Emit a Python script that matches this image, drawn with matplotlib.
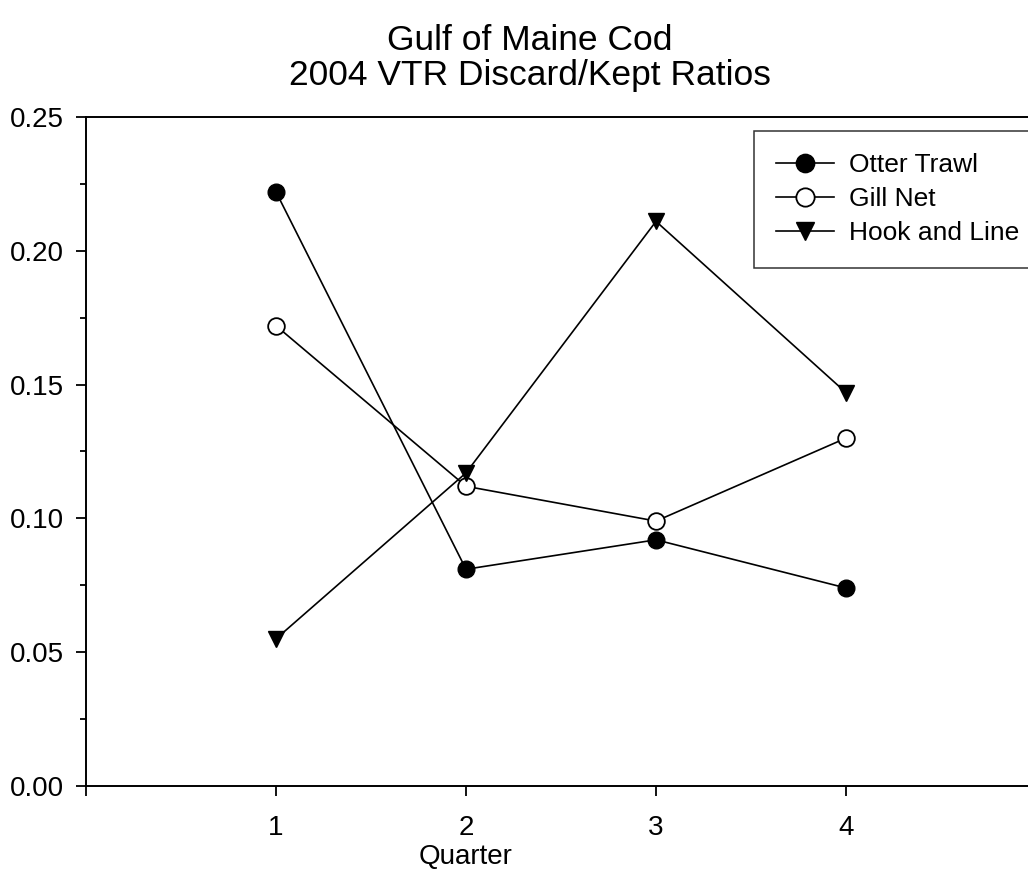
import matplotlib
matplotlib.use("Agg")
import matplotlib.pyplot as plt
from matplotlib.ticker import MultipleLocator, FixedLocator

plt.rcParams['font.family'] = ['Liberation Sans', 'DejaVu Sans']

quarters = [1, 2, 3, 4]
otter_trawl = [0.222, 0.081, 0.092, 0.074]
gill_net = [0.172, 0.112, 0.099, 0.130]
hook_and_line = [0.055, 0.117, 0.211, 0.147]
series_names = ["Otter Trawl", "Gill Net", "Hook and Line"]
title_lines = ["Gulf of Maine Cod", "2004 VTR Discard/Kept Ratios"]
x_label = "Quarter"
y_ticks = [0.00, 0.05, 0.10, 0.15, 0.20, 0.25]

W, H = 1028, 894
fig = plt.figure(figsize=(W / 100, H / 100), dpi=100)
# axes: left 86px, bottom 786px, top 117px, right beyond figure (x=5 at 1036px)
ax = fig.add_axes([86 / W, (H - 786) / H, 950 / W, (786 - 117) / H])

lw = 1.2
ms = 12
ax.plot(quarters, otter_trawl, color='black', lw=lw, marker='o', ms=ms,
        mfc='black', mec='black', label=series_names[0], zorder=3)
ax.plot(quarters, gill_net, color='black', lw=lw, marker='o', ms=ms,
        mfc='white', mec='black', mew=1.3, label=series_names[1], zorder=3)
ax.plot(quarters, hook_and_line, color='black', lw=lw, marker='v', ms=ms,
        mfc='black', mec='black', label=series_names[2], zorder=3)

ax.set_xlim(0, 5)
ax.set_ylim(0, 0.25)
ax.xaxis.set_major_locator(FixedLocator(quarters))
ax.set_xticklabels([str(q) for q in quarters])
ax.yaxis.set_major_locator(FixedLocator(y_ticks))
ax.set_yticklabels([f"{v:.2f}" for v in y_ticks])
ax.yaxis.set_minor_locator(MultipleLocator(0.025))

for s in ['left', 'bottom', 'top']:
    ax.spines[s].set_linewidth(1.4)
ax.spines['right'].set_visible(False)

ax.tick_params(axis='both', which='major', direction='out', length=7,
               width=1.3, labelsize=20)
ax.tick_params(axis='y', which='major', pad=9)
ax.tick_params(axis='x', which='major', pad=14)
ax.tick_params(axis='y', which='minor', direction='out', length=4.5, width=1.3)
ax.tick_params(top=False, right=False)
# x-axis tick at x=0 (left corner)
ax.set_xticks([0], minor=True)
ax.tick_params(axis='x', which='minor', direction='out', length=7, width=1.3)

leg = ax.legend(loc='upper left', bbox_to_anchor=((754 - 86) / 950, (786 - 131) / (786 - 117)),
                frameon=True, fancybox=False, edgecolor='black', fontsize=19,
                handlelength=2.2, handletextpad=0.55, labelspacing=0.38,
                borderpad=0.85, borderaxespad=0, markerscale=1.1)
leg.get_frame().set_linewidth(1.1)

fig.text(530 / W, 1 - 40 / H, title_lines[0], ha='center', va='center', fontsize=25.5)
fig.text(530 / W, 1 - 76 / H, title_lines[1], ha='center', va='center', fontsize=25.5)
fig.text(466 / W, 1 - 857 / H, x_label, ha='center', va='center', fontsize=20)

fig.savefig("out.png", dpi=100)
